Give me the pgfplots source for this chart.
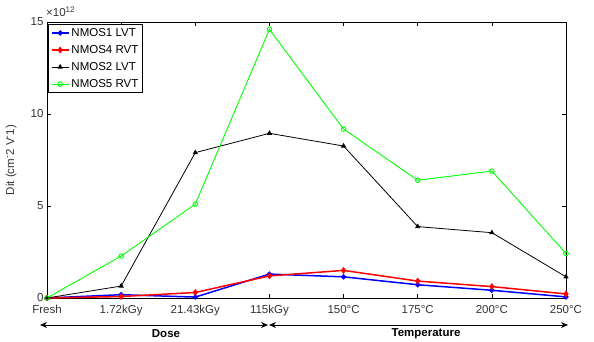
\documentclass[border=0pt]{standalone}
\usepackage{pgfplots}
\pgfplotsset{compat=1.18}
\usepackage{fontspec}
\setmainfont{Liberation Sans}
\usetikzlibrary{arrows.meta}
\definecolor{mblue}{rgb}{0,0,1}
\definecolor{mred}{rgb}{1,0,0}
\definecolor{mgreen}{rgb}{0,1,0}
\begin{document}
\begin{tikzpicture}[x=1pt,y=1pt]
\useasboundingbox (0,0) rectangle (594,341);
\begin{axis}[
  at={(47pt,43pt)}, anchor=south west,
  scale only axis, width=519pt, height=276pt,
  xmin=0, xmax=7, ymin=0, ymax=15,
  xtick={0,1,2,3,4,5,6,7},
  xticklabels={Fresh,1.72kGy,21.43kGy,115kGy,150°C,175°C,200°C,250°C},
  ytick={0,5,10,15},
  tick align=inside,
  tick pos=both,
  major tick length=4pt,
  axis line style={line width=0.9pt},
  every tick/.style={black, line width=0.6pt},
  tick label style={font=\fontsize{11.5}{13}\selectfont, text=black!80},
  xticklabel style={yshift=-4pt},
  /pgf/number format/assume math mode=true,
  ylabel={Dit (cm\textsuperscript{-}2 V\textsuperscript{-}1)},
  ylabel style={font=\fontsize{11.5}{13}\selectfont, text=black!80, at={(axis description cs:-0.052,0.5)}},
  legend style={at={(axis cs:0.02,14.9)}, anchor=north west, font=\fontsize{11.5}{13}\selectfont,
    draw=black, line width=0.8pt, inner sep=2pt, row sep=3.5pt, cells={anchor=west}},
  legend cell align=left,
  clip=false,
]
\addplot[mblue, line width=1.5pt, mark=*, mark size=1.8pt] coordinates {
(0,0) (1,0.18) (2,0.05) (3,1.3) (4,1.15) (5,0.72) (6,0.42) (7,0.06)};
\addlegendentry{NMOS1 LVT}
\addplot[mred, line width=1.5pt, mark=diamond*, mark size=2.3pt] coordinates {
(0,0) (1,0.08) (2,0.3) (3,1.2) (4,1.5) (5,0.92) (6,0.62) (7,0.22)};
\addlegendentry{NMOS4 RVT}
\addplot[black, line width=0.8pt, mark=triangle*, mark size=2.3pt, mark options={fill=black}] coordinates {
(0,0) (1,0.65) (2,7.9) (3,8.95) (4,8.26) (5,3.88) (6,3.55) (7,1.15)};
\addlegendentry{NMOS2 LVT}
\addplot[mgreen, line width=0.9pt, mark=o, mark size=2.3pt] coordinates {
(0,0) (1,2.28) (2,5.1) (3,14.6) (4,9.18) (5,6.4) (6,6.9) (7,2.42)};
\addlegendentry{NMOS5 RVT}
\end{axis}
\node[anchor=base west, inner sep=0pt, font=\fontsize{11.5}{13}\selectfont, text=black!80] at (46,324) {×10\textsuperscript{12}};
\draw[{Stealth[length=7pt,width=6pt]}-{Stealth[length=7pt,width=6pt]}, line width=0.9pt] (40,16) -- (268,16);
\draw[{Stealth[length=7pt,width=6pt]}-{Stealth[length=7pt,width=6pt]}, line width=0.9pt] (269,16) -- (568,16);
\node[font=\fontsize{11.5}{13}\selectfont\bfseries] at (166,7) {Dose};
\node[font=\fontsize{11.5}{13}\selectfont\bfseries] at (426,7) {Temperature};
\end{tikzpicture}
\end{document}
